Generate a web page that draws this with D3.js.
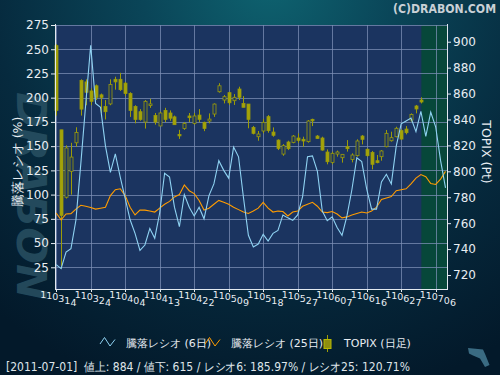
<!DOCTYPE html>
<html>
<head>
<meta charset="utf-8">
<script src="https://cdn.jsdelivr.net/npm/d3@7"></script>
<style>
  body { margin: 0; background: #04192a; }
  svg { display: block; }
  text { font-family: "DejaVu Sans", sans-serif; }
</style>
</head>
<body>
<svg id="chart" width="500" height="375"></svg>
<script>
// x tick labels (yymmdd), one every 7 trading days
const tickLabels = ["110314", "110324", "110404", "110413", "110422", "110509",
                    "110518", "110527", "110607", "110616", "110627", "110706"];

// TOPIX daily candles, 2011-03-14 .. 2011-07-01
const topixOpen = [897, 832, 780, 800, 822, 870, 869, 862, 866, 859, 850, 852, 871, 871, 868, 860, 850, 846, 838, 851,
  843, 835, 847, 845, 842, 828.5, 833, 842.7, 837, 843.4, 837.8, 838.8, 844.2, 861.4, 855, 860.7, 854.5, 863.5, 852.4, 851.9,
  833.9, 826.7, 831.1, 842.2, 830.3, 824.1, 813.3, 822.6, 822.3, 825.7, 824.7, 822.9, 840.1, 827.2, 825.7, 814.9, 806.9, 813.3, 810.5, 819,
  809.2, 812.1, 827.2, 817, 814.6, 808.2, 811.3, 819, 823.6, 826.7, 831.4, 832.6, 839.6, 850.4, 855];
const topixHigh = [898, 832, 820, 822, 834, 871, 871, 864, 867, 860, 855, 871, 873, 876, 869, 861, 851, 848, 855, 856,
  845, 846, 849, 847, 843, 832, 838, 845, 845, 848, 838.3, 844.7, 852.4, 868, 858.9, 861.4, 859.6, 865.3, 858, 851.9,
  835, 831.1, 840.4, 843.4, 833.9, 824.7, 821, 823.6, 828, 829.3, 826.7, 839.6, 840.6, 828, 826.7, 816.9, 815.2, 816, 813.4, 824.1,
  813.9, 824.7, 828, 817.7, 815.7, 812.6, 816.4, 831.9, 830.6, 834.4, 832.4, 834.9, 844.7, 851.2, 857.1];
const topixLow = [843, 725, 779, 782, 819, 843, 851, 851, 855, 845, 840, 851, 863, 862, 858, 842, 837, 839, 833, 849,
  836, 835, 838, 839, 836, 825, 832, 838, 836, 838, 831, 837, 842, 860.7, 852.4, 851.2, 851.2, 855, 849.4, 833.2,
  828.5, 823.6, 829.3, 829.8, 826.7, 816.4, 812, 816.4, 821.6, 822.1, 819, 822.1, 834.9, 825, 815.9, 805.4, 805.4, 811.3, 806.7, 815.2,
  806.9, 811.3, 820.8, 811.3, 801.5, 806.2, 808.2, 818.5, 822.9, 826.2, 824.1, 828.5, 838.3, 844.7, 852.4];
const topixClose = [847, 766, 818, 811, 830, 848, 861, 854, 857, 857, 846, 867, 869, 863, 860, 847, 840, 840, 854, 852,
  838, 845, 840, 841, 836, 827.7, 837, 841.4, 842.7, 840.1, 833.1, 840.3, 851.9, 866, 857.6, 852.9, 857.1, 857.1, 849.4, 840.1,
  829.3, 828.8, 837.8, 831.4, 827.8, 817.7, 819.8, 817.5, 827.2, 823.9, 823.4, 838.8, 839, 825.4, 816.4, 807.4, 813.9, 814.9, 813.1, 817.5,
  812.6, 823.4, 824.7, 812.1, 805.4, 806.7, 815.7, 829.3, 826, 833.2, 824.9, 829.8, 843.9, 848.1, 853.5];

// advance/decline ratio, 6-day and 25-day (%)
const ratio6 = [27.7, 23.6, 40.8, 44.2, 73.5, 132, 194, 254, 194, 190, 150, 123, 142, 118, 96, 74, 60, 42.5, 48, 65,
  55, 81, 122, 118, 87, 67, 100, 87, 78, 87, 75, 99, 111, 135, 125, 117, 149, 139, 97, 58,
  46, 49, 59, 52, 60, 63, 79, 76, 73.5, 79, 98, 139, 140, 124, 83, 73, 77, 66, 58, 78,
  105, 138, 134, 106, 85, 85, 113, 121, 111, 150, 173, 176, 179, 165, 186, 160, 185, 170, 135, 107];
const ratio25 = [81, 74, 80, 80.4, 85, 89, 88, 86.6, 85, 86, 87, 99, 105, 106, 99, 87, 79, 84, 84, 83,
  82, 86, 90, 93, 97.6, 100, 110, 104, 101, 94, 84, 86, 90, 94, 92, 90, 87, 84.5, 82, 80.5,
  83, 86, 92, 86, 82, 83, 82.5, 78, 82, 83, 88, 90, 92, 88, 82, 81.4, 82.5, 80, 76, 77,
  79, 80.5, 82, 81, 83, 87, 95, 96.5, 98, 104, 105, 106, 111, 117, 120.7, 118.5, 111.5, 110.5, 116, 124];

const leftTicks = [25, 50, 75, 100, 125, 150, 175, 200, 225, 250, 275];
const rightTicks = [720, 740, 760, 780, 800, 820, 840, 860, 880, 900];
const lastDay = 74; // 2011-07-01
const footerText = "[2011-07-01]  値上: 884 / 値下: 615 / レシオ6: 185.97% / レシオ25: 120.71%";

const svg = d3.select("#chart");
const width = +svg.attr("width");
const height = +svg.attr("height");
const plot = { left: 55, right: 447, top: 25, bottom: 289 };

// background gradient
const defs = svg.append("defs");
const bg = defs.append("radialGradient").attr("id", "bg")
  .attr("gradientUnits", "userSpaceOnUse")
  .attr("cx", 270).attr("cy", -20).attr("r", 430);
bg.append("stop").attr("offset", 0).attr("stop-color", "#0e6370");
bg.append("stop").attr("offset", 0.3).attr("stop-color", "#0a4558");
bg.append("stop").attr("offset", 0.65).attr("stop-color", "#062a3e");
bg.append("stop").attr("offset", 1).attr("stop-color", "#03192a");
svg.append("rect").attr("width", width).attr("height", height).attr("fill", "url(#bg)");

// watermark
svg.append("text")
  .attr("transform", "translate(17,92) rotate(90)")
  .attr("font-size", 40).attr("font-weight", "bold").attr("font-style", "italic")
  .attr("textLength", 208).attr("lengthAdjust", "spacingAndGlyphs")
  .attr("fill", "#2b5365").attr("opacity", 0.8)
  .text("DRABON");

// scales
const x = d3.scaleLinear().domain([-0.24, 79.3]).range([plot.left, plot.right]);
const yL = d3.scaleLinear().domain([2.6, 275]).range([plot.bottom, plot.top]);
const yR = d3.scaleLinear().domain([709.2, 912.9]).range([plot.bottom, plot.top]);

// plot areas
svg.append("rect")
  .attr("x", plot.left).attr("y", plot.top)
  .attr("width", plot.right - plot.left).attr("height", plot.bottom - plot.top)
  .attr("fill", "#1b3460");
svg.append("rect")
  .attr("x", x(lastDay + 0.1)).attr("y", plot.top)
  .attr("width", plot.right - x(lastDay + 0.1)).attr("height", plot.bottom - plot.top)
  .attr("fill", "#07473a");

const g = svg.append("g");

// grid
const tickIdx = tickLabels.map((d, i) => i * 7);
g.append("g").selectAll("line").data(leftTicks).join("line")
  .attr("x1", plot.left).attr("x2", plot.right)
  .attr("y1", d => Math.round(yL(d)) + 0.5).attr("y2", d => Math.round(yL(d)) + 0.5)
  .attr("stroke", "#7d8fb5").attr("stroke-opacity", 0.75);
g.append("g").selectAll("line").data(tickIdx).join("line")
  .attr("x1", d => Math.round(x(d)) + 0.5).attr("x2", d => Math.round(x(d)) + 0.5)
  .attr("y1", plot.top).attr("y2", plot.bottom)
  .attr("stroke", "#7d8fb5").attr("stroke-opacity", 0.75);

// candles
const candles = g.append("g").selectAll("g").data(topixOpen.map((o, i) => i)).join("g");
candles.append("line")
  .attr("x1", i => Math.round(x(i)) + 0.5).attr("x2", i => Math.round(x(i)) + 0.5)
  .attr("y1", i => yR(topixHigh[i])).attr("y2", i => yR(topixLow[i]))
  .attr("stroke", "#9c9c08");
candles.append("rect")
  .attr("x", i => Math.round(x(i)) - 1)
  .attr("width", 3)
  .attr("y", i => yR(Math.max(topixOpen[i], topixClose[i])))
  .attr("height", i => Math.max(1.5, Math.abs(yR(topixOpen[i]) - yR(topixClose[i]))))
  .attr("fill", i => topixClose[i] < topixOpen[i] ? "#a3a30a" : "#1b3460")
  .attr("stroke", "#9c9c08").attr("stroke-width", 0.8);

// ratio lines
const line = (ys) => d3.line().x((d, i) => x(i)).y(d => ys(d));
g.append("path").datum(ratio25)
  .attr("d", line(yL))
  .attr("fill", "none").attr("stroke", "#ff9c00").attr("stroke-width", 1.1);
g.append("path").datum(ratio6)
  .attr("d", line(yL))
  .attr("fill", "none").attr("stroke", "#8fd2f2").attr("stroke-width", 1.1);

// axes
const axisColor = "#e2e8f0";
const labelColor = "#e8edf2";
const leftAxis = svg.append("g").attr("transform", `translate(${plot.left},0)`)
  .call(d3.axisLeft(yL).tickValues(leftTicks).tickSize(4).tickPadding(2));
const rightAxis = svg.append("g").attr("transform", `translate(${plot.right},0)`)
  .call(d3.axisRight(yR).tickValues(rightTicks).tickSize(4).tickPadding(2));
[leftAxis, rightAxis].forEach(a => {
  a.select(".domain").attr("stroke", axisColor).attr("d", `M0.5,${plot.top - 1}V${plot.bottom}`);
  a.selectAll(".tick line").attr("stroke", axisColor);
  a.selectAll(".tick text").attr("fill", labelColor).attr("font-size", 12)
    .attr("font-family", "DejaVu Sans, sans-serif");
});

// bottom axis line and ticks
svg.append("line").attr("x1", plot.left).attr("x2", plot.right + 1)
  .attr("y1", plot.bottom + 0.5).attr("y2", plot.bottom + 0.5).attr("stroke", axisColor);
svg.append("g").selectAll("line").data(tickIdx).join("line")
  .attr("x1", d => Math.round(x(d)) + 0.5).attr("x2", d => Math.round(x(d)) + 0.5)
  .attr("y1", plot.bottom).attr("y2", plot.bottom + 3).attr("stroke", axisColor);

// x tick labels, stair-stepped downward as in the original
svg.append("g").selectAll("text").data(tickLabels).join("text")
  .attr("x", (d, i) => x(i * 7) - 16)
  .attr("y", 298)
  .attr("dy", "0 0.5 1.5 1.5 2 2")
  .attr("font-size", 9.5)
  .attr("fill", labelColor)
  .text(d => d);

// axis titles
svg.append("text")
  .attr("transform", "translate(22,162) rotate(-90)")
  .attr("text-anchor", "middle").attr("font-size", 12.5).attr("fill", labelColor)
  .attr("font-family", "Noto Sans CJK JP, sans-serif")
  .text("騰落レシオ (%)");
svg.append("text")
  .attr("transform", "translate(482,152) rotate(90)")
  .attr("text-anchor", "middle").attr("font-size", 12.5).attr("fill", labelColor)
  .text("TOPIX (Pt)");

// copyright
svg.append("text")
  .attr("x", 496).attr("y", 13).attr("text-anchor", "end")
  .attr("font-size", 11.5).attr("font-weight", "bold").attr("fill", "#c9d0d6")
  .attr("textLength", 103).attr("lengthAdjust", "spacingAndGlyphs")
  .text("(C)DRABON.COM");

// legend
const legend = svg.append("g").attr("font-size", 11).attr("fill", labelColor)
  .attr("font-family", "Noto Sans CJK JP, sans-serif");
legend.append("polyline")
  .attr("points", "100,344 104.5,337.5 110,346 115,339.5")
  .attr("fill", "none").attr("stroke", "#8fd2f2");
legend.append("text").attr("x", 126).attr("y", 347).text("騰落レシオ (6日)");
legend.append("polyline")
  .attr("points", "205,344 209.5,337.5 215,346 220,339.5")
  .attr("fill", "none").attr("stroke", "#ff9c00");
legend.append("text").attr("x", 231).attr("y", 347).text("騰落レシオ (25日)");
legend.append("line").attr("x1", 327.5).attr("x2", 327.5).attr("y1", 335).attr("y2", 352)
  .attr("stroke", "#9c9c08");
legend.append("rect").attr("x", 324).attr("y", 339.5).attr("width", 7).attr("height", 9)
  .attr("fill", "#8e8e10").attr("stroke", "#b8b800");
legend.append("text").attr("x", 344).attr("y", 347).text("TOPIX (日足)");

// footer
svg.append("text")
  .attr("x", 6).attr("y", 371)
  .attr("font-size", 12).attr("fill", "#dfe5ea")
  .attr("font-family", "Noto Sans CJK JP, sans-serif")
  .attr("xml:space", "preserve")
  .attr("textLength", 404).attr("lengthAdjust", "spacingAndGlyphs")
  .text(footerText);

// small logo, bottom right
svg.append("polygon")
  .attr("points", "468,348 483,349.5 485.5,355 489.5,365 485,367 480,358.5 473,355.5 469,353.5")
  .attr("fill", "#3a6b82");
</script>
</body>
</html>
